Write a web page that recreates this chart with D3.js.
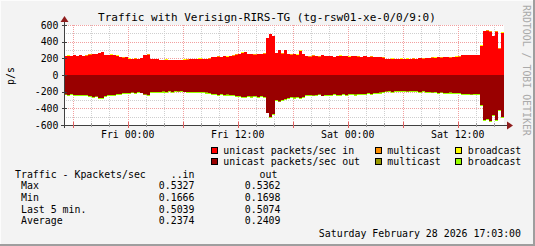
<!DOCTYPE html>
<html>
<head>
<meta charset="utf-8">
<script src="https://cdn.jsdelivr.net/npm/d3@7"></script>
<style>
body { margin: 0; background: #f3f3f3; }
text { font-family: "DejaVu Sans Mono", monospace; fill: #000; }
</style>
</head>
<body>
<div id="container"></div>
<script>
// chart window: 48h ending Sat Feb 28 2026 17:03, 20 minute samples
var startTime = Date.UTC(2026, 1, 26, 17, 3);
var endTime = Date.UTC(2026, 1, 28, 17, 3);
var stepMs = 20 * 60 * 1000;

// unicast packets/sec in (20 min samples)
var unicastIn = [
	228, 232, 226, 235, 230, 238, 229, 233,
	245, 252, 248, 262, 272,
	240, 236, 244, 238, 232,
	214, 210, 212,
	196, 194, 198, 192,
	200, 238, 246,
	192, 190, 194,
	182, 180, 184, 178, 180, 176, 182, 178, 184, 186,
	190, 194, 192, 196, 190, 194, 198,
	214, 218, 222, 216, 224, 220, 226, 232,
	246, 250, 268, 276, 248, 252, 246, 254, 250, 256,
	440, 495, 470,
	262, 300, 258, 296, 254,
	246, 250, 244, 292, 248,
	228, 222, 232, 226, 220, 236, 228, 224, 230, 218, 226, 232, 224,
	228, 220, 226, 230, 222, 218, 224, 216, 220, 214, 218, 212, 210,
	194, 190, 196, 192, 188, 194, 190, 196, 192, 198, 194, 200, 196, 204,
	206, 210, 208, 214, 210, 212, 216, 210, 214, 218, 222,
	236, 240, 238, 242, 240, 236,
	350, 528, 533, 520, 470, 520, 318, 504
];

// unicast packets/sec out (20 min samples, drawn below zero)
var unicastOut = [
	232, 238, 230, 236, 240, 234, 242, 236,
	250, 262, 256, 270, 276,
	248, 240, 236, 242, 230,
	222, 216, 218,
	212, 208, 214, 206,
	210, 232, 240,
	206, 200, 204,
	198, 196, 200, 194, 198, 192, 196, 194, 198, 200,
	204, 202, 206, 200, 204, 208, 210,
	226, 230, 234, 228, 236, 232, 238, 242,
	250, 254, 262, 258, 250, 256, 248, 258, 252, 260,
	450, 500, 470,
	300, 316, 296, 290, 270,
	262, 268, 258, 272, 260,
	240, 236, 244, 238, 232, 246, 240, 236, 242, 230, 238, 234, 228,
	236, 230, 226, 232, 224, 228, 222, 218, 224, 216, 212, 208, 204,
	196, 192, 198, 190, 188, 194, 190, 196, 188, 194, 192, 198, 194, 200,
	204, 208, 206, 212, 208, 210, 214, 208, 212, 216, 218,
	226, 230, 224, 232, 228, 226,
	360, 540, 530, 546, 478, 534, 420, 506
];

// the small series are hourly
var multicastIn = [
	2, 3, 2, 2, 4, 2, 3, 2, 2, 5, 2, 2, 3, 2, 2, 2, 3, 2, 4, 2, 2, 3, 2, 2,
	3, 2, 2, 4, 2, 3, 2, 2, 2, 3, 2, 2, 4, 2, 2, 3, 2, 2, 3, 2, 2, 4, 3, 5
];
var broadcastIn = [
	1, 1, 1, 2, 1, 1, 1, 1, 2, 1, 1, 1, 1, 1, 2, 1, 1, 1, 1, 2, 1, 1, 1, 1,
	1, 2, 1, 1, 1, 1, 1, 2, 1, 1, 1, 1, 2, 1, 1, 1, 1, 1, 2, 1, 1, 1, 1, 2
];
var multicastOut = [
	2, 2, 3, 2, 2, 2, 3, 2, 2, 2, 2, 3, 2, 2, 2, 3, 2, 2, 2, 2, 3, 2, 2, 2,
	3, 2, 2, 2, 2, 3, 2, 2, 2, 2, 3, 2, 2, 2, 2, 3, 2, 2, 2, 3, 2, 2, 2, 3
];
var broadcastOut = [
	10, 12, 9, 11, 13, 10, 12, 11, 9, 10, 12, 11, 10, 9, 11, 12, 10, 13, 11, 10, 12, 10, 9, 11,
	10, 12, 11, 10, 9, 10, 11, 12, 10, 9, 11, 10, 12, 11, 10, 9, 11, 10, 12, 11, 10, 12, 11, 10
];

var legendRows = [
	[{label: "unicast packets/sec in", color: "#ff0000"}, {label: "multicast", color: "#ff9000"}, {label: "broadcast", color: "#ffff00"}],
	[{label: "unicast packets/sec out", color: "#990000"}, {label: "multicast", color: "#999900"}, {label: "broadcast", color: "#99ff00"}]
];

var statNames = ["Max", "Min", "Last 5 min.", "Average"];
var statsIn = ["0.5327", "0.1666", "0.5039", "0.2374"];
var statsOut = ["0.5362", "0.1698", "0.5074", "0.2409"];

var yTicks = [-600, -400, -200, 0, 200, 400, 600];

var width = 535, height = 246;

var svg = d3.select("#container").append("svg")
	.attr("width", width)
	.attr("height", height);

// background and rrdtool style shading
svg.append("rect").attr("width", width).attr("height", height).attr("fill", "#f3f3f3");
svg.append("rect").attr("x", 0).attr("y", 0).attr("width", width).attr("height", 1).attr("fill", "#fcfcfc");
svg.append("rect").attr("x", 0).attr("y", 0).attr("width", 1).attr("height", height).attr("fill", "#fcfcfc");
svg.append("rect").attr("x", width - 2).attr("y", 0).attr("width", 2).attr("height", height).attr("fill", "#9e9e9e");
svg.append("rect").attr("x", 0).attr("y", height - 2).attr("width", width).attr("height", 2).attr("fill", "#9e9e9e");

var x = d3.scaleUtc().domain([startTime, endTime]).range([64, 504]);
var y = d3.scaleLinear().domain([-600, 600]).range([125, 25]);

// canvas
svg.append("rect")
	.attr("x", x.range()[0]).attr("y", y(600))
	.attr("width", x.range()[1] - x.range()[0]).attr("height", y(-600) - y(600))
	.attr("fill", "#ffffff");

// grid
var grid = svg.append("g").attr("shape-rendering", "crispEdges");
var minorY = d3.range(-500, 600, 200);
var minorX = d3.utcHour.every(2).range(new Date(startTime), new Date(endTime))
	.filter(function(d) { return d.getUTCHours() % 6 != 0; });
var majorX = d3.utcHour.every(6).range(new Date(startTime), new Date(endTime));

grid.selectAll(".ming").data(minorY).enter().append("line")
	.attr("x1", x.range()[0]).attr("x2", x.range()[1])
	.attr("y1", function(d) { return y(d) + 0.5; }).attr("y2", function(d) { return y(d) + 0.5; })
	.attr("stroke", "#cfcfcf").attr("stroke-dasharray", "1,1");
grid.selectAll(".minx").data(minorX).enter().append("line")
	.attr("x1", function(d) { return Math.round(x(d)) + 0.5; }).attr("x2", function(d) { return Math.round(x(d)) + 0.5; })
	.attr("y1", y(600)).attr("y2", y(-600))
	.attr("stroke", "#cfcfcf").attr("stroke-dasharray", "1,1");
grid.selectAll(".majy").data(yTicks).enter().append("line")
	.attr("x1", x.range()[0]).attr("x2", x.range()[1])
	.attr("y1", function(d) { return y(d) + 0.5; }).attr("y2", function(d) { return y(d) + 0.5; })
	.attr("stroke", "#f2a0a0").attr("stroke-dasharray", "1,1");
grid.selectAll(".majx").data(majorX).enter().append("line")
	.attr("x1", function(d) { return Math.round(x(d)) + 0.5; }).attr("x2", function(d) { return Math.round(x(d)) + 0.5; })
	.attr("y1", y(600)).attr("y2", y(-600))
	.attr("stroke", "#f2a0a0").attr("stroke-dasharray", "1,1");

// build the samples, stacked the rrdtool way
var samples = unicastIn.map(function(v, i) {
	var h = Math.floor(i / 3);
	return {
		t: new Date(startTime + i * stepMs),
		ui: v, mi: multicastIn[h], bi: broadcastIn[h],
		uo: unicastOut[i], mo: multicastOut[h], bo: broadcastOut[h]
	};
});
// repeat the last one so the step reaches the end
var last = samples[samples.length - 1];
samples.push(Object.assign({}, last, {t: new Date(endTime)}));

var bands = [
	{color: "#ff0000", lo: function(d) { return 0; }, hi: function(d) { return d.ui; }},
	{color: "#ff9000", lo: function(d) { return d.ui; }, hi: function(d) { return d.ui + d.mi; }},
	{color: "#ffff00", lo: function(d) { return d.ui + d.mi; }, hi: function(d) { return d.ui + d.mi + d.bi; }},
	{color: "#990000", lo: function(d) { return 0; }, hi: function(d) { return -d.uo; }},
	{color: "#999900", lo: function(d) { return -d.uo; }, hi: function(d) { return -d.uo - d.mo; }},
	{color: "#99ff00", lo: function(d) { return -d.uo - d.mo; }, hi: function(d) { return -d.uo - d.mo - d.bo; }}
];

svg.append("g").selectAll("path")
	.data(bands).enter()
	.append("path")
		.attr("fill", function(b) { return b.color; })
		.attr("shape-rendering", "crispEdges")
		.attr("d", function(b) {
			return d3.area()
				.curve(d3.curveStepAfter)
				.x(function(d) { return x(d.t); })
				.y0(function(d) { return y(b.lo(d)); })
				.y1(function(d) { return y(b.hi(d)); })(samples);
		});

// axes
var axisColor = "#404040", arrowColor = "#8f1d1d";
var ax = svg.append("g").attr("shape-rendering", "crispEdges");
ax.append("line").attr("x1", 61).attr("x2", 508).attr("y1", y(-600) + 0.5).attr("y2", y(-600) + 0.5).attr("stroke", axisColor);
ax.append("line").attr("x1", 64.5).attr("x2", 64.5).attr("y1", 128).attr("y2", 21).attr("stroke", axisColor);
svg.append("path").attr("d", "M507,121.5L513,125.5L507,129.5Z").attr("fill", arrowColor);
svg.append("path").attr("d", "M60.5,22L64.5,16L68.5,22Z").attr("fill", arrowColor);

// small tick marks on the axes
ax.selectAll(".yt").data(yTicks).enter().append("line")
	.attr("x1", 62).attr("x2", 67)
	.attr("y1", function(d) { return y(d) + 0.5; }).attr("y2", function(d) { return y(d) + 0.5; })
	.attr("stroke", axisColor);
ax.selectAll(".xt").data(majorX).enter().append("line")
	.attr("x1", function(d) { return Math.round(x(d)) + 0.5; }).attr("x2", function(d) { return Math.round(x(d)) + 0.5; })
	.attr("y1", 122).attr("y2", 128)
	.attr("stroke", "#e06060");
ax.selectAll(".xm").data(minorX).enter().append("line")
	.attr("x1", function(d) { return Math.round(x(d)) + 0.5; }).attr("x2", function(d) { return Math.round(x(d)) + 0.5; })
	.attr("y1", 123).attr("y2", 127)
	.attr("stroke", "#a0a0a0");

var fs = "9.9px";

svg.selectAll(".ylab").data(yTicks).enter().append("text")
	.attr("x", 58.5).attr("y", function(d) { return y(d) + 3.6; })
	.attr("text-anchor", "end").style("font-size", fs)
	.text(function(d) { return d; });

var labelTicks = d3.utcHour.every(12).range(new Date(startTime), new Date(endTime));
var fmt = d3.utcFormat("%a %H:%M");
svg.selectAll(".xlab").data(labelTicks).enter().append("text")
	.attr("x", function(d) { return x(d); }).attr("y", 137.5)
	.attr("text-anchor", "middle").style("font-size", fs)
	.text(function(d) { return fmt(d); });

// title and side labels
svg.append("text")
	.attr("x", 267).attr("y", 20.5).attr("text-anchor", "middle")
	.style("font-size", "11px")
	.text("Traffic with Verisign-RIRS-TG (tg-rsw01-xe-0/0/9:0)");

svg.append("text")
	.attr("transform", "translate(14,76) rotate(-90)")
	.attr("text-anchor", "middle").style("font-size", fs)
	.text("p/s");

svg.append("text")
	.attr("transform", "translate(523,5) rotate(90)")
	.style("font-size", fs).style("fill", "#aaaaaa")
	.text("RRDTOOL / TOBI OETIKER");

// legend
var colX = [210.5, 374.5, 455];
legendRows.forEach(function(row, r) {
	var baseY = 153.5 + r * 11.6;
	row.forEach(function(item, c) {
		svg.append("rect")
			.attr("x", colX[c] + 0.5).attr("y", baseY - 6.5)
			.attr("width", 6).attr("height", 6)
			.attr("fill", item.color).attr("stroke", "#000").attr("shape-rendering", "crispEdges");
		svg.append("text")
			.attr("x", colX[c] + 12.8).attr("y", baseY)
			.style("font-size", fs)
			.text(item.label);
	});
});

// stats table
svg.append("text").attr("x", 15).attr("y", 177.5).style("font-size", fs).text("Traffic - Kpackets/sec");
svg.append("text").attr("x", 194.5).attr("y", 177.5).attr("text-anchor", "end").style("font-size", fs).text("..in");
svg.append("text").attr("x", 259.5).attr("y", 177.5).style("font-size", fs).text("out");

statNames.forEach(function(name, i) {
	var yy = 189.2 + i * 11.7;
	svg.append("text").attr("x", 21).attr("y", yy).style("font-size", fs).text(name);
	svg.append("text").attr("x", 194.5).attr("y", yy).attr("text-anchor", "end").style("font-size", fs).text(statsIn[i]);
	svg.append("text").attr("x", 280.5).attr("y", yy).attr("text-anchor", "end").style("font-size", fs).text(statsOut[i]);
});

svg.append("text")
	.attr("x", 521).attr("y", 236.7).attr("text-anchor", "end")
	.style("font-size", fs)
	.text("Saturday February 28 2026 17:03:00");
</script>
</body>
</html>
